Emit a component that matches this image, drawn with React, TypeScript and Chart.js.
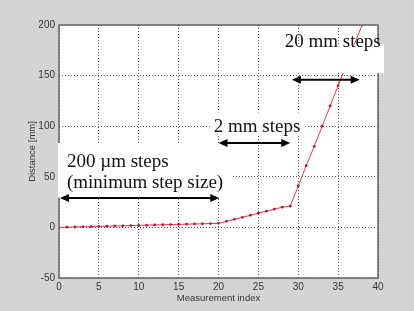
import React, { useEffect, useRef } from 'react';
import { Chart, registerables } from 'chart.js';

Chart.register(...registerables);

// Measurement index (x) and measured distance in mm (y)
const measurementIndex = [
  0, 1, 2, 3, 4, 5, 6, 7, 8, 9, 10, 11, 12, 13, 14, 15, 16, 17, 18, 19, 20,
  21, 22, 23, 24, 25, 26, 27, 28, 29,
  30, 31, 32, 33, 34, 35, 36, 37, 38,
];
const distanceMm = [
  0, 0.2, 0.4, 0.6, 0.8, 1.0, 1.2, 1.4, 1.6, 1.8, 2.0, 2.2, 2.4, 2.6, 2.8, 3.0, 3.2, 3.4, 3.6, 3.8, 4.0,
  6, 8, 10, 12, 14, 16, 18, 20, 21,
  41, 61, 80, 100, 120, 140, 160, 180, 200,
];

const xTicks = [0, 5, 10, 15, 20, 25, 30, 35, 40];
const yTicks = [-50, 0, 50, 100, 150, 200];

const xTitle = 'Measurement index';
const yTitle = 'Distance [mm]';

// Annotation texts
const label200um = ['200 µm steps', '(minimum step size)'];
const label2mm = '2 mm steps';
const label20mm = '20 mm steps';

// Arrow spans in data units: [xStart, xEnd, y]
const arrow200um = [0, 20.1, 29];
const arrow2mm = [20, 29, 83.5];
const arrow20mm = [29.2, 37.7, 146];

function drawArrow(ctx: CanvasRenderingContext2D, x1: number, x2: number, y: number) {
  const hl = 9;
  const hw = 4;
  ctx.save();
  ctx.strokeStyle = '#000';
  ctx.fillStyle = '#000';
  ctx.lineWidth = 2;
  ctx.beginPath();
  ctx.moveTo(x1 + hl - 1, y);
  ctx.lineTo(x2 - hl + 1, y);
  ctx.stroke();
  ctx.beginPath();
  ctx.moveTo(x1, y);
  ctx.lineTo(x1 + hl, y - hw);
  ctx.lineTo(x1 + hl, y + hw);
  ctx.closePath();
  ctx.fill();
  ctx.beginPath();
  ctx.moveTo(x2, y);
  ctx.lineTo(x2 - hl, y - hw);
  ctx.lineTo(x2 - hl, y + hw);
  ctx.closePath();
  ctx.fill();
  ctx.restore();
}

const decorPlugin = {
  id: 'decor',
  beforeDraw(chart: any) {
    const { ctx, chartArea: a, width, height } = chart;
    ctx.save();
    ctx.fillStyle = '#d4d4d4';
    ctx.fillRect(0, 0, width, height);
    ctx.fillStyle = '#ffffff';
    ctx.fillRect(a.left, a.top, a.right - a.left, a.bottom - a.top);
    ctx.restore();
  },
  afterDatasetsDraw(chart: any) {
    const { ctx, chartArea: a } = chart;
    ctx.save();
    ctx.strokeStyle = '#666';
    ctx.lineWidth = 1.5;
    ctx.strokeRect(a.left, a.top, a.right - a.left, a.bottom - a.top);
    ctx.restore();
  },
  afterDraw(chart: any) {
    const { ctx, chartArea: a } = chart;
    const xs = chart.scales.x;
    const ys = chart.scales.y;
    const px = (v: number) => xs.getPixelForValue(v);
    const py = (v: number) => ys.getPixelForValue(v);

    ctx.save();
    // white label boxes
    ctx.fillStyle = '#ffffff';
    const box = (x1: number, x2: number, y1: number, y2: number) => {
      const l = px(x1), r = px(x2), t = py(y1), b = py(y2);
      ctx.fillRect(l, t, r - l, b - t);
    };
    box(-0.13, 21.7, 83.4, 29.5);
    box(18.9, 30.9, 113.5, 90.5);
    box(27.7, 40.75, 181, 152.5);

    ctx.fillStyle = '#111';
    ctx.font = '19px "Liberation Serif", "Times New Roman", serif';
    ctx.textAlign = 'left';
    ctx.textBaseline = 'alphabetic';
    ctx.fillText(label200um[0], px(1.0), py(59.7));
    ctx.fillText(label200um[1], px(1.0), py(38.8));
    ctx.fillText(label2mm, px(19.4), py(94.3));
    ctx.fillText(label20mm, px(28.3), py(178));

    drawArrow(ctx, px(arrow200um[0]) + 1, px(arrow200um[1]), py(arrow200um[2]));
    drawArrow(ctx, px(arrow2mm[0]), px(arrow2mm[1]), py(arrow2mm[2]));
    drawArrow(ctx, px(arrow20mm[0]), px(arrow20mm[1]), py(arrow20mm[2]));

    // axis titles
    ctx.fillStyle = '#333';
    ctx.font = '9.5px "Liberation Sans", Arial, sans-serif';
    ctx.textAlign = 'center';
    ctx.textBaseline = 'middle';
    ctx.fillText(xTitle, (a.left + a.right) / 2, 298);
    ctx.translate(32, (a.top + a.bottom) / 2);
    ctx.rotate(-Math.PI / 2);
    ctx.fillText(yTitle, 0, 0);
    ctx.restore();
  },
};

export default function App() {
  const canvasRef = useRef<HTMLCanvasElement | null>(null);

  useEffect(() => {
    document.body.style.margin = '0';
    const canvas = canvasRef.current;
    if (!canvas) return;
    const points = measurementIndex.map((x, i) => ({ x, y: distanceMm[i] }));
    const tickFont = { family: '"Liberation Sans", Arial, sans-serif', size: 10 };
    const chart = new Chart(canvas, {
      type: 'line',
      data: {
        datasets: [
          {
            data: points,
            borderColor: '#e43a4c',
            borderWidth: 1,
            pointRadius: 1.4,
            pointBackgroundColor: '#b8183c',
            pointBorderWidth: 0,
            tension: 0,
          },
        ],
      },
      options: {
        responsive: false,
        animation: false,
        devicePixelRatio: 1,
        layout: { padding: { left: 0, top: 25, right: 36, bottom: 0 } },
        plugins: { legend: { display: false }, tooltip: { enabled: false } },
        scales: {
          x: {
            type: 'linear',
            min: 0,
            max: 40,
            afterBuildTicks: (s: any) => {
              s.ticks = xTicks.map((v) => ({ value: v }));
            },
            afterFit: (s: any) => {
              s.height = 33;
            },
            ticks: { color: '#333', font: tickFont, padding: 3, maxRotation: 0 },
            grid: { color: '#5a5a5a', drawTicks: false, lineWidth: 1 },
            border: { display: false, dash: [1, 2] },
          },
          y: {
            type: 'linear',
            min: -50,
            max: 200,
            afterBuildTicks: (s: any) => {
              s.ticks = yTicks.map((v) => ({ value: v }));
            },
            afterFit: (s: any) => {
              s.width = 59;
            },
            ticks: { color: '#333', font: tickFont, padding: 4 },
            grid: { color: '#5a5a5a', drawTicks: false, lineWidth: 1 },
            border: { display: false, dash: [1, 2] },
          },
        },
      },
      plugins: [decorPlugin],
    } as any);
    return () => chart.destroy();
  }, []);

  return (
    <div style={{ width: 414, height: 311 }}>
      <canvas ref={canvasRef} width={414} height={311} style={{ display: 'block' }} />
    </div>
  );
}
